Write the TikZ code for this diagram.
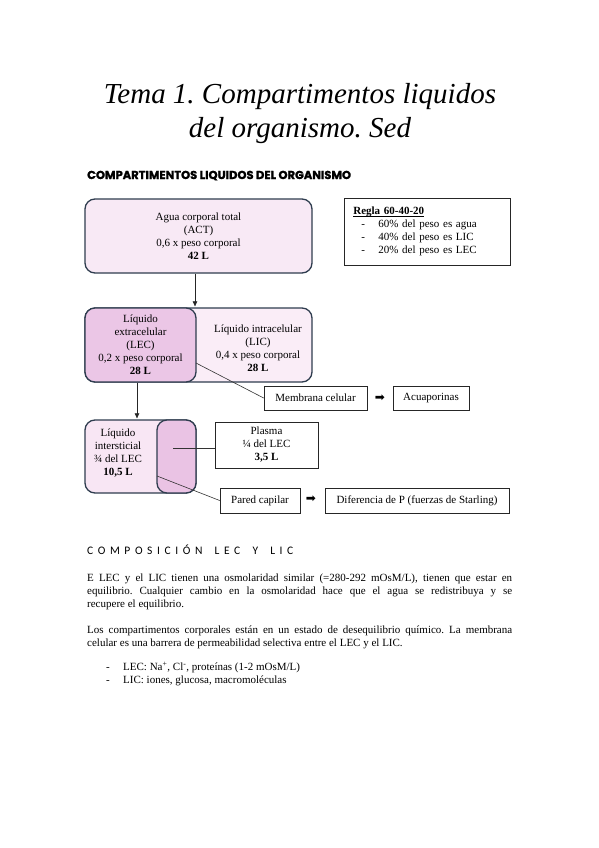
\documentclass[tikz,border=0pt]{standalone}
\usepackage{fontspec}
\setmainfont{Liberation Serif}
\newfontfamily\headfont{Poppins}[BoldFeatures={FakeBold=1.6}]
\newfontfamily\capsfont{Carlito}[LetterSpace=40]
\newfontfamily\symfont{DejaVu Sans}
\usetikzlibrary{arrows.meta}
\definecolor{navy}{HTML}{2F3D4F}
\definecolor{actfill}{HTML}{F8E9F5}
\definecolor{lecfill}{HTML}{EBC6E6}
\definecolor{licfill}{HTML}{FAEDF7}
\definecolor{intfill}{HTML}{F8E6F4}
\definecolor{plasfill}{HTML}{EAC3E4}
\newcommand\myul[1]{\setbox0\hbox{#1}\rlap{\rule[-1.8pt]{\wd0}{0.6pt}}\box0}
\frenchspacing
\begin{document}
\begin{tikzpicture}[x=1pt,y=-1pt,
  box/.style={draw=black!85, line width=0.7pt, fill=white, inner sep=2pt, align=center, font=\fontsize{11}{13}\selectfont},
  roundbox/.style={draw=navy, line width=1.3pt, rounded corners=10pt},
  txt/.style={font=\fontsize{11}{13}\selectfont, align=center, inner sep=0pt},
  arr/.style={-{Triangle[length=5pt,width=4.5pt]}, line width=0.6pt, draw=black!85},
  link/.style={line width=0.6pt, draw=black!80},
  glyph/.style={font=\symfont\fontsize{12}{12}\selectfont, inner sep=0pt},
  para/.style={anchor=north west, inner sep=0pt, font=\fontsize{11}{13}\selectfont},
  ttl/.style={font=\fontsize{29}{32}\selectfont\itshape, anchor=base, inner sep=0pt},
]
\useasboundingbox[fill=white] (0,0) rectangle (599,848);

% title
\node[ttl] (t1) at (300,104) {Tema 1. Compartimentos liquidos};
\node[ttl] (t2) at (300,138) {del organismo. Sed};

\node[font={\fontsize{11.5}{12}\selectfont\headfont\bfseries}, anchor=base west, inner sep=0pt] (h1) at (87,179) {COMPARTIMENTOS LIQUIDOS DEL ORGANISMO};

% ACT
\node[roundbox, fill=actfill, minimum width=227pt, minimum height=74pt, txt] (act) at (198.5,236)
  {Agua corporal total\\(ACT)\\0,6 x peso corporal\\\textbf{42 L}};

% Regla
\node[box, anchor=north west, minimum width=166pt, minimum height=67pt, text width=148pt, align=left] (regla) at (344,198)
  {\myul{\textbf{Regla 60-40-20}}\\
   \makebox[25pt][l]{\hspace*{8pt}-}60\% del peso es agua\\
   \makebox[25pt][l]{\hspace*{8pt}-}40\% del peso es LIC\\
   \makebox[25pt][l]{\hspace*{8pt}-}20\% del peso es LEC};

% LIC / LEC
\node[roundbox, fill=licfill, minimum width=227pt, minimum height=74pt] (licbox) at (198.5,345) {};
\node[roundbox, fill=lecfill, minimum width=111pt, minimum height=74pt, txt] (lec) at (140.5,345)
  {Líquido\\extracelular\\(LEC)\\0,2 x peso corporal\\\textbf{28 L}};
\node[txt] (lic) at (258,348.5) {Líquido intracelular\\(LIC)\\0,4 x peso corporal\\\textbf{28 L}};

\draw[arr, shorten >=1pt] ([xshift=-3.5pt]act.south) -- ([xshift=-3.5pt]licbox.north);

% membrana
\node[box, minimum width=103pt, minimum height=24pt] (memb) at (315.5,398) {Membrana celular};
\node[glyph] (ar1) at (380,398) {➡};
\node[box, minimum width=76pt, minimum height=24pt] (acua) at (431,398) {Acuaporinas};
\coordinate (lecout) at (196,363);
\draw[link] (lecout) -- (memb.west);

% intersticial
\node[roundbox, fill=intfill, minimum width=111pt, minimum height=73pt] (intbox) at (140.5,456.5) {};
\node[roundbox, fill=plasfill, minimum width=39pt, minimum height=73pt] (plaspart) at (176.5,456.5) {};
\node[txt] (inttxt) at (118,453.5) {Líquido\\intersticial\\¾ del LEC\\\textbf{10,5 L}};
\draw[arr, shorten >=1pt] ([xshift=-3.5pt]lec.south) -- ([xshift=-3.5pt]intbox.north);

% plasma
\node[box, minimum width=103pt, minimum height=46pt, txt] (plasma) at (266.5,445) {Plasma\\¼ del LEC\\\textbf{3,5 L}};
\coordinate (plasin) at (173,448);
\draw[link] (plasin) -- (plasin -| plasma.west);

% pared capilar
\node[box, minimum width=80pt, minimum height=25pt] (pared) at (260,500.5) {Pared capilar};
\node[glyph] (ar2) at (311,499.5) {➡};
\node[box, minimum width=184pt, minimum height=25pt] (dif) at (417,500.5) {Diferencia de P (fuerzas de Starling)};
\coordinate (parin) at (157,476);
\draw[link] (parin) -- (pared.west);

% composicion
\node[font={\fontsize{11.5}{13}\selectfont\capsfont}, anchor=base west, inner sep=0pt] (comp) at (87,554) {COMPOSICIÓN\hspace{5pt} LEC\hspace{5pt} Y\hspace{5pt} LIC};

\node[para, text width=425pt, align=justify] (p1) at (87,572)
  {\strut E LEC y el LIC tienen una osmolaridad similar (=280-292 mOsM/L), tienen que estar en\linebreak
   equilibrio. Cualquier cambio en la osmolaridad hace que el agua se redistribuya y se\linebreak
   recupere el equilibrio.};

\node[para, text width=425pt, align=justify] (p2) at (87,624)
  {\strut Los compartimentos corporales están en un estado de desequilibrio químico. La membrana\linebreak
   celular es una barrera de permeabilidad selectiva entre el LEC y el LIC.};

\node[para, align=left] (bul) at (106,661)
  {\strut\makebox[17pt][l]{-}LEC: Na\textsuperscript{+}, Cl\textsuperscript{-}, proteínas (1-2 mOsM/L)\\
   \makebox[17pt][l]{-}LIC: iones, glucosa, macromoléculas};
\end{tikzpicture}
\end{document}
